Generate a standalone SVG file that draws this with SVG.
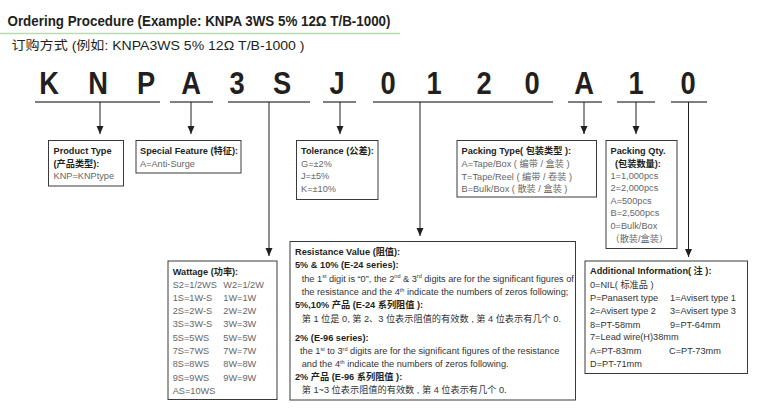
<svg xmlns="http://www.w3.org/2000/svg" width="775" height="415" viewBox="0 0 775 415">
<defs>
<style>
text{font-family:"Liberation Sans","Noto Sans CJK SC",sans-serif}
.t1{font-weight:bold;font-size:14px;fill:#231f20}
.t2{font-size:12.5px;fill:#231f20}
.big{font-weight:bold;font-size:31px;fill:#231f20;text-anchor:middle}
.h{font-weight:bold;font-size:9.2px;fill:#231f20}
.v{font-size:9.2px;fill:#666}
.r{font-size:9.2px;fill:#333}
.sup{font-size:5.5px}
.box{fill:#fff;stroke:#3a3a3a;stroke-width:1}
.ul{stroke:#555;stroke-width:1.6}
.cn{stroke:#231f20;stroke-width:1;fill:none}
.ar{marker-end:url(#arr)}
</style>
<marker id="arr" markerUnits="userSpaceOnUse" markerWidth="9" markerHeight="8" viewBox="0 -4 9 8" refX="8" refY="0" orient="auto">
<path d="M0,-3.5 L8,0 L0,3.5 z" fill="#231f20"/>
</marker>
</defs>
<rect width="775" height="415" fill="#fff"/>

<g id="title">
<text class="t1" x="7.5" y="25.5" textLength="383" lengthAdjust="spacingAndGlyphs">Ordering Procedure (Example: KNPA 3WS 5% 12Ω T/B-1000)</text>
<line x1="0" y1="33.5" x2="400" y2="33.5" stroke="#b9dcae" stroke-width="1.5"/>
<text class="t2" x="11.5" y="49.5" textLength="293" lengthAdjust="spacingAndGlyphs">订购方式 (例如: KNPA3WS 5% 12Ω T/B-1000 )</text>
</g>

<g id="code">
<text class="big" transform="translate(49,94.3) scale(0.88,1)">K</text>
<text class="big" transform="translate(98,94.3) scale(0.88,1)">N</text>
<text class="big" transform="translate(146,94.3) scale(0.88,1)">P</text>
<text class="big" transform="translate(191,94.3) scale(0.88,1)">A</text>
<text class="big" transform="translate(237,94.3) scale(0.88,1)">3</text>
<text class="big" transform="translate(282,94.3) scale(0.88,1)">S</text>
<text class="big" transform="translate(337,94.3) scale(0.88,1)">J</text>
<text class="big" transform="translate(388,94.3) scale(0.88,1)">0</text>
<text class="big" transform="translate(434,94.3) scale(0.88,1)">1</text>
<text class="big" transform="translate(484,94.3) scale(0.88,1)">2</text>
<text class="big" transform="translate(532,94.3) scale(0.88,1)">0</text>
<text class="big" transform="translate(584,94.3) scale(0.88,1)">A</text>
<text class="big" transform="translate(636,94.3) scale(0.88,1)">1</text>
<text class="big" transform="translate(688,94.3) scale(0.88,1)">0</text>
<line class="ul" x1="35" y1="102" x2="160" y2="102"/>
<line class="ul" x1="170" y1="102" x2="213" y2="102"/>
<line class="ul" x1="228" y1="102" x2="310" y2="102"/>
<line class="ul" x1="323" y1="102" x2="356" y2="102"/>
<line class="ul" x1="373" y1="102" x2="553" y2="102"/>
<line class="ul" x1="568" y1="102" x2="602" y2="102"/>
<line class="ul" x1="617" y1="102" x2="655" y2="102"/>
<line class="ul" x1="671" y1="102" x2="707" y2="102"/>
</g>

<g id="connectors">
<line class="cn ar" x1="100" y1="102" x2="100" y2="134"/>
<line class="cn ar" x1="191" y1="102" x2="191" y2="134"/>
<line class="cn ar" x1="269" y1="102" x2="269" y2="256"/>
<line class="cn ar" x1="340" y1="102" x2="340" y2="134"/>
<line class="cn ar" x1="420" y1="102" x2="420" y2="236"/>
<line class="cn ar" x1="584" y1="102" x2="584" y2="134"/>
<line class="cn ar" x1="636" y1="102" x2="636" y2="134"/>
<line class="cn ar" x1="688.5" y1="102" x2="688.5" y2="257"/>
</g>

<g id="product-type">
<rect class="box" x="48.5" y="140.5" width="75" height="45.5"/>
<text class="h" x="53.5" y="154">Product Type</text>
<text class="h" x="53.5" y="166.6">(产品类型):</text>
<text class="v" x="53.5" y="179.3">KNP=KNPtype</text>
</g>

<g id="special-feature">
<rect class="box" x="136" y="140.5" width="105" height="32.5"/>
<text class="h" x="140" y="154">Special Feature (特征):</text>
<text class="v" x="140" y="166.6">A=Anti-Surge</text>
</g>

<g id="tolerance">
<rect class="box" x="296.5" y="140.5" width="81.5" height="59"/>
<text class="h" x="301" y="154">Tolerance (公差):</text>
<text class="v" x="301" y="166.6">G=±2%</text>
<text class="v" x="301" y="179.3">J=±5%</text>
<text class="v" x="301" y="192.3">K=±10%</text>
</g>

<g id="packing-type">
<rect class="box" x="457" y="140.5" width="139.5" height="56.5"/>
<text class="h" x="461.5" y="154">Packing Type( 包装类型 ):</text>
<text class="v" x="461.5" y="166.8">A=Tape/Box ( 编带 / 盒装 )</text>
<text class="v" x="461.5" y="179.5">T=Tape/Reel ( 编带 / 卷装 )</text>
<text class="v" x="461.5" y="192.2">B=Bulk/Box ( 散装 / 盒装 )</text>
</g>

<g id="packing-qty">
<rect class="box" x="606" y="140.5" width="71" height="108"/>
<text class="h" x="610.5" y="154">Packing Qty.</text>
<text class="h" x="615" y="166.6">(包装数量):</text>
<text class="v" x="610.5" y="179">1=1,000pcs</text>
<text class="v" x="610.5" y="191.4">2=2,000pcs</text>
<text class="v" x="610.5" y="203.8">A=500pcs</text>
<text class="v" x="610.5" y="216.2">B=2,500pcs</text>
<text class="v" x="610.5" y="228.6">0=Bulk/Box</text>
<text class="v" x="610.5" y="241.5">（散装/盒装）</text>
</g>

<g id="wattage">
<rect class="box" x="168" y="261" width="109" height="138.5"/>
<text class="h" x="172.7" y="275">Wattage (功率):</text>
<text class="v" x="172.7" y="287.5">S2=1/2WS</text><text class="v" x="223.3" y="287.5">W2=1/2W</text>
<text class="v" x="172.7" y="300.8">1S=1W-S</text><text class="v" x="223.3" y="300.8">1W=1W</text>
<text class="v" x="172.7" y="314.1">2S=2W-S</text><text class="v" x="223.3" y="314.1">2W=2W</text>
<text class="v" x="172.7" y="327.4">3S=3W-S</text><text class="v" x="223.3" y="327.4">3W=3W</text>
<text class="v" x="172.7" y="340.7">5S=5WS</text><text class="v" x="223.3" y="340.7">5W=5W</text>
<text class="v" x="172.7" y="354">7S=7WS</text><text class="v" x="223.3" y="354">7W=7W</text>
<text class="v" x="172.7" y="367.3">8S=8WS</text><text class="v" x="223.3" y="367.3">8W=8W</text>
<text class="v" x="172.7" y="380.6">9S=9WS</text><text class="v" x="223.3" y="380.6">9W=9W</text>
<text class="v" x="172.7" y="393.9">AS=10WS</text>
</g>

<g id="resistance-value">
<rect class="box" x="290" y="241.5" width="285.5" height="158.5"/>
<text class="h" x="295" y="255">Resistance Value (阻值):</text>
<text class="h" x="295" y="268.3">5% &amp; 10% (E-24 series):</text>
<text class="r" x="301.7" y="281.6">the 1<tspan class="sup" dy="-3.2">st</tspan><tspan dy="3.2"> digit is “0”, the 2</tspan><tspan class="sup" dy="-3.2">nd</tspan><tspan dy="3.2"> &amp; 3</tspan><tspan class="sup" dy="-3.2">rd</tspan><tspan dy="3.2"> digits are for the significant figures of</tspan></text>
<text class="r" x="301.7" y="295">the resistance and the 4<tspan class="sup" dy="-3.2">th</tspan><tspan dy="3.2"> indicate the numbers of zeros following;</tspan></text>
<text class="h" x="295" y="307.8">5%,10% 产品 (E-24 系列阻值 ):</text>
<text class="r" x="301.7" y="321.6">第 1 位是 0, 第 2、3 位表示阻值的有效数 , 第 4 位表示有几个 0.</text>
<text class="h" x="295" y="341">2% (E-96 series):</text>
<text class="r" x="300" y="354">the 1<tspan class="sup" dy="-3.2">st</tspan><tspan dy="3.2"> to 3</tspan><tspan class="sup" dy="-3.2">rd</tspan><tspan dy="3.2"> digits are for the significant figures of the resistance</tspan></text>
<text class="r" x="301.7" y="367.3">and the 4<tspan class="sup" dy="-3.2">th</tspan><tspan dy="3.2"> indicate the numbers of zeros following.</tspan></text>
<text class="h" x="295" y="380">2% 产品 (E-96 系列阻值 ):</text>
<text class="r" x="301.7" y="393.3">第 1~3 位表示阻值的有效数 , 第 4 位表示有几个 0.</text>
</g>

<g id="additional-information">
<rect class="box" x="585" y="261" width="162.5" height="112.5"/>
<text class="h" x="590" y="274.3">Additional Information( 注 ):</text>
<text class="r" x="590" y="287.6">0=NIL( 标准品 )</text>
<text class="r" x="590" y="301">P=Panasert type</text><text class="r" x="670" y="301">1=Avisert type 1</text>
<text class="r" x="590" y="314.3">2=Avisert type 2</text><text class="r" x="670" y="314.3">3=Avisert type 3</text>
<text class="r" x="590" y="327.6">8=PT-58mm</text><text class="r" x="670" y="327.6">9=PT-64mm</text>
<text class="r" x="590" y="340.3">7=Lead wire(H)38mm</text>
<text class="r" x="590" y="353.6">A=PT-83mm</text><text class="r" x="669" y="353.6">C=PT-73mm</text>
<text class="r" x="590" y="366.6">D=PT-71mm</text>
</g>
</svg>
